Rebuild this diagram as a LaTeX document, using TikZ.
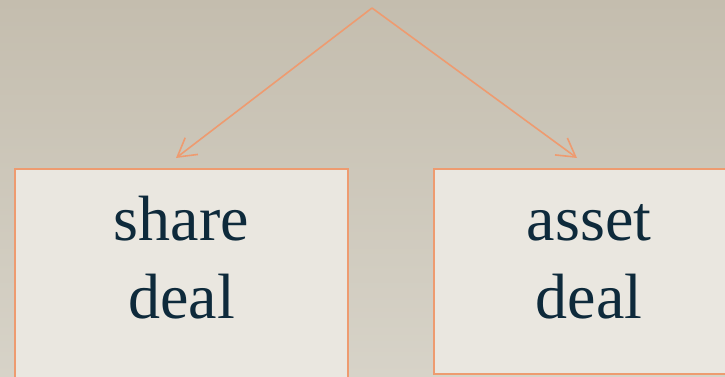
\documentclass[tikz,border=0pt]{standalone}
\usepackage{fontspec}
\setmainfont{Liberation Serif}
\usetikzlibrary{arrows.meta, positioning}
\definecolor{bgtop}{HTML}{C4BDAE}
\definecolor{bgbottom}{HTML}{D7D3C8}
\definecolor{boxfill}{HTML}{EAE7E0}
\definecolor{boxline}{HTML}{EE9B70}
\definecolor{inkblue}{HTML}{0E2A3B}

\begin{document}
\begin{tikzpicture}[
  x=1pt, y=-1pt,
  dealbox/.style={draw=boxline, line width=2pt, fill=boxfill,
    anchor=north, inner sep=0pt},
  dealtext/.style={text=inkblue, align=center, anchor=base,
    font=\fontsize{64}{78}\selectfont, inner sep=0pt},
  arr/.style={-{Straight Barb[length=18pt, width=21pt]}, line width=1.6pt,
    boxline},
]
\useasboundingbox (0,0) rectangle (725,377);
\clip (0,0) rectangle (725,377);
% ── background ──
\shade[top color=bgtop, bottom color=bgbottom] (0,0) rectangle (725,377);

% ── two deal boxes ──
\node[dealbox, minimum width=333pt, minimum height=232pt] (share) at (181.5,168) {};
\node[dealbox, minimum width=310pt, minimum height=205pt] (asset) at (589,168) {};

\node[dealtext] (shareText) at (181.5,318) {share\\deal};
\node[dealtext] (assetText) at (589,318) {asset\\deal};

% ── split arrows ──
\coordinate (top) at (372,8);
\draw[arr] (top) -- ([xshift=-5.5pt, yshift=10pt]share.north);
\draw[arr] (top) -- ([xshift=-12pt, yshift=10pt]asset.north);
\end{tikzpicture}
\end{document}
